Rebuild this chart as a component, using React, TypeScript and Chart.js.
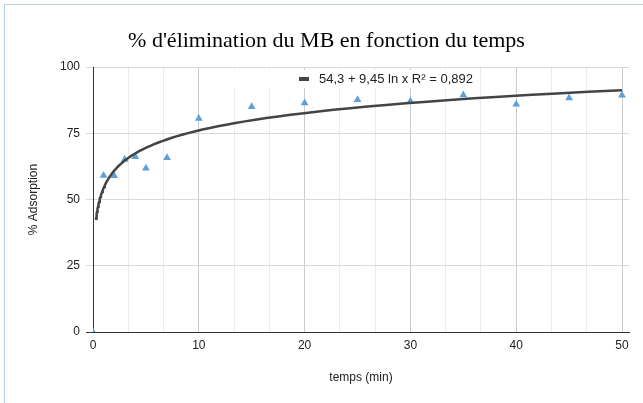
import React, { useEffect, useRef } from "react";
import { Chart, registerables } from "chart.js";

Chart.register(...registerables);

// ---- data ----
const TIME_MIN = [0, 1, 2, 3, 4, 5, 7, 10, 15, 20, 25, 30, 35, 40, 45, 50];
const ADSORPTION = [0, 59.1, 59.0, 65.1, 66.1, 61.8, 65.8, 80.6, 85.0, 86.4, 87.6, 87.1, 89.4, 85.9, 88.3, 89.3];

// logarithmic trend line shown in the legend: y = A + B ln x
const TREND_A = 54.3;
const TREND_B = 9.45;
const TREND_R2 = "0,892";
const TREND_X_START = 0.28;
const TREND_X_END = 50;
const TREND_SAMPLES = 80;

const Y_TICKS = [0, 25, 50, 75, 100];
const X_MAJOR_STEP = 10;
const X_MINOR_DIVISIONS = 3;
const X_LABEL_MAX = 50;

const TITLE = "% d'élimination du MB en fonction du temps";
const X_TITLE = "temps (min)";
const Y_TITLE = "% Adsorption";
const LEGEND_TEXT = `54,3 + 9,45 ln x R² = ${TREND_R2}`;

const SANS = "'Liberation Sans', Arial, sans-serif";
const SERIF = "'Liberation Serif', 'Times New Roman', serif";

function trendPoints() {
  const pts: { x: number; y: number }[] = [];
  const ratio = TREND_X_END / TREND_X_START;
  for (let i = 0; i < TREND_SAMPLES; i++) {
    const x = TREND_X_START * Math.pow(ratio, i / (TREND_SAMPLES - 1));
    pts.push({ x, y: TREND_A + TREND_B * Math.log(x) });
  }
  return pts;
}

function isMajor(v: number) {
  return Math.abs(v / X_MAJOR_STEP - Math.round(v / X_MAJOR_STEP)) < 1e-6;
}

const legendPlugin = {
  id: "insideLegend",
  beforeDatasetsDraw(chart: any) {
    const { ctx, chartArea } = chart;
    const left = chartArea.left;
    const top = chartArea.top;
    ctx.save();
    ctx.fillStyle = "#ffffff";
    ctx.fillRect(left + 108, top + 3, 276, 18);
    const cy = top + 12;
    ctx.strokeStyle = "#444444";
    ctx.lineWidth = 4;
    ctx.beginPath();
    ctx.moveTo(left + 206, cy);
    ctx.lineTo(left + 216, cy);
    ctx.stroke();
    ctx.fillStyle = "#222222";
    ctx.font = `13px ${SANS}`;
    ctx.textBaseline = "middle";
    ctx.textAlign = "left";
    ctx.fillText(LEGEND_TEXT, left + 226, cy + 0.5);
    ctx.restore();
  },
};

export default function App() {
  const canvasRef = useRef<HTMLCanvasElement | null>(null);

  useEffect(() => {
    if (!canvasRef.current) return;
    const points = TIME_MIN.map((t, i) => ({ x: t, y: ADSORPTION[i] }));
    const xTicks: number[] = [];
    const minorStep = X_MAJOR_STEP / X_MINOR_DIVISIONS;
    for (let i = 0; i * minorStep <= X_LABEL_MAX + 1e-9; i++) xTicks.push(i * minorStep);

    const chart = new Chart(canvasRef.current, {
      type: "scatter",
      data: {
        datasets: [
          {
            label: "% Adsorption",
            data: points,
            pointStyle: "triangle",
            pointRadius: 4.5,
            pointBackgroundColor: "#5ea1d9",
            pointBorderWidth: 0,
            showLine: false,
            clip: 0,
            order: 1,
          } as any,
          {
            label: LEGEND_TEXT,
            data: trendPoints(),
            showLine: true,
            borderColor: "#444444",
            borderWidth: 2.5,
            pointRadius: 0,
            tension: 0,
            order: 0,
          } as any,
        ],
      },
      options: {
        animation: false,
        responsive: false,
        maintainAspectRatio: false,
        layout: { padding: { left: 24, right: 14, top: 0, bottom: 0 } },
        plugins: {
          legend: { display: false },
          tooltip: { enabled: false },
          title: {
            display: true,
            text: TITLE,
            color: "#000000",
            font: { family: SERIF, size: 22, weight: "normal" },
            padding: { top: 28, bottom: 12.6 },
          },
        },
        scales: {
          x: {
            type: "linear",
            min: 0,
            max: 50.66,
            afterBuildTicks: (scale: any) => {
              scale.ticks = xTicks.map((v) => ({ value: v }));
            },
            afterFit: (scale: any) => {
              scale.height = 71;
            },
            grid: {
              color: (c: any) => (isMajor(c.tick?.value ?? 0) ? "#cccccc" : "#ebebeb"),
              drawTicks: false,
              lineWidth: 1,
            },
            border: { color: "#333333", width: 1 },
            ticks: {
              autoSkip: false,
              maxRotation: 0,
              padding: 6,
              color: "#222222",
              font: { family: SANS, size: 12 },
              callback: (v: any) => (isMajor(Number(v)) ? String(Math.round(Number(v))) : ""),
            },
            title: {
              display: true,
              text: X_TITLE,
              color: "#222222",
              font: { family: SANS, size: 12 },
              padding: { top: 4, bottom: 18 },
            },
          },
          y: {
            type: "linear",
            min: 0,
            max: 100,
            afterBuildTicks: (scale: any) => {
              scale.ticks = Y_TICKS.map((v) => ({ value: v }));
            },
            afterFit: (scale: any) => {
              scale.width = 69;
            },
            grid: {
              color: (c: any) => ((c.tick?.value ?? 1) === 0 ? "#333333" : "#d9d9d9"),
              drawTicks: true,
              tickLength: 7,
              lineWidth: 1,
            },
            border: { color: "#333333", width: 1 },
            ticks: {
              padding: 6,
              color: "#222222",
              font: { family: SANS, size: 12 },
            },
            title: {
              display: true,
              text: Y_TITLE,
              color: "#222222",
              font: { family: SANS, size: 12 },
              padding: { top: 2, bottom: 0 },
            },
          },
        },
      } as any,
      plugins: [legendPlugin],
    });
    return () => chart.destroy();
  }, []);

  return (
    <div style={{ position: "fixed", left: 0, top: 0, width: 643, height: 403, background: "#ffffff" }}>
      <div
        style={{
          position: "absolute",
          left: 4,
          top: 4,
          width: 639,
          height: 399,
          borderLeft: "1px solid #b5d0ec",
          borderTop: "1px solid #b5d0ec",
        }}
      />
      <canvas
        ref={canvasRef}
        width={643}
        height={403}
        style={{ position: "absolute", left: 0, top: 0, width: 643, height: 403, display: "block" }}
      />
    </div>
  );
}
